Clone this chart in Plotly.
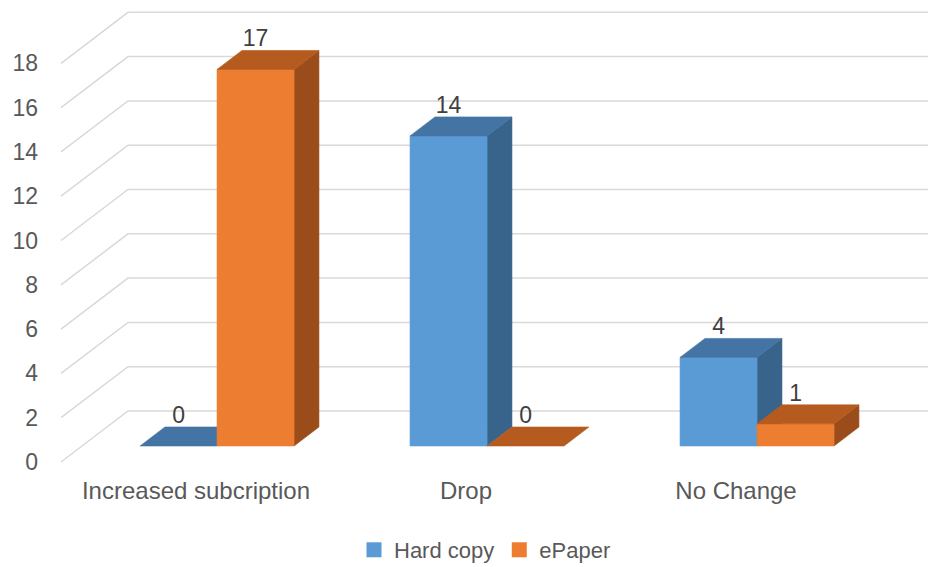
import plotly.graph_objects as go

# ---------------- data ----------------
categories = ["Increased subcription", "Drop", "No Change"]
hard_copy = [0, 14, 4]
epaper = [17, 0, 1]
series_names = ["Hard copy", "ePaper"]
y_ticks = [0, 2, 4, 6, 8, 10, 12, 14, 16, 18]

# ---------------- styling / geometry ----------------
W, H = 928, 567
ML, MR, MT, MB = 42, 0, 0, 97
PX_PER_X = 270.0      # pixels per category step
X0_PX = 196.0         # pixel of first category centre (front plane)
Y0_PX = 462.0         # pixel of value 0 (front plane)
PX_PER_V = 22.15      # pixels per unit value

x_range = [(ML - X0_PX) / PX_PER_X, (W - MR - X0_PX) / PX_PER_X]
y_range = [(Y0_PX - (H - MB)) / PX_PER_V, (Y0_PX - MT) / PX_PER_V]

DX = 67 / PX_PER_X    # full depth shift, x units
DY = 51 / PX_PER_V    # full depth shift, value units
F1, F2 = 0.314, 0.686 # bar front / back depth fractions
BAR_W = 77 / PX_PER_X
LABEL_GAP = 10 / PX_PER_V

colors = {
    "Hard copy": {"front": "#5B9BD5", "top": "#4374A3", "side": "#38648B"},
    "ePaper": {"front": "#ED7D31", "top": "#B65B1F", "side": "#9A4D1B"},
}
font_family = "Liberation Sans, Arial, sans-serif"
text_color = "#595959"
grid_color = "#D9D9D9"

fig = go.Figure()

# ---------------- gridlines (side wall + back wall) ----------------
gx, gy = [], []
for v in y_ticks:
    gx += [-0.5, -0.5 + DX, x_range[1] + 1, None]
    gy += [v, v + DY, v + DY, None]
fig.add_trace(go.Scatter(x=gx, y=gy, mode="lines", line=dict(color=grid_color, width=1.5),
                         hoverinfo="skip", showlegend=False, cliponaxis=False))


def poly(pts, color, name):
    xs = [p[0] for p in pts] + [pts[0][0]]
    ys = [p[1] for p in pts] + [pts[0][1]]
    fig.add_trace(go.Scatter(x=xs, y=ys, mode="lines", fill="toself", fillcolor=color,
                             line=dict(width=0.6, color=color), hoverinfo="skip",
                             showlegend=False, name=name))


def bar3d(xl, xr, h, c, name):
    a1x, a1y = F1 * DX, F1 * DY
    a2x, a2y = F2 * DX, F2 * DY
    if h > 0:
        # side face
        poly([(xr + a1x, a1y), (xr + a2x, a2y), (xr + a2x, h + a2y), (xr + a1x, h + a1y)], c["side"], name)
        # front face
        poly([(xl + a1x, a1y), (xr + a1x, a1y), (xr + a1x, h + a1y), (xl + a1x, h + a1y)], c["front"], name)
    # top face
    poly([(xl + a1x, h + a1y), (xr + a1x, h + a1y), (xr + a2x, h + a2y), (xl + a2x, h + a2y)], c["top"], name)


label_x, label_y, label_t = [], [], []
for i, cat in enumerate(categories):
    for s, (name, vals) in enumerate(zip(series_names, [hard_copy, epaper])):
        xl = i - BAR_W if s == 0 else i
        xr = xl + BAR_W
        bar3d(xl, xr, vals[i], colors[name], name)
        label_x.append((xl + xr) / 2 + F1 * DX)
        label_y.append(vals[i] + F2 * DY + LABEL_GAP)
        label_t.append(str(vals[i]))

fig.add_trace(go.Scatter(x=label_x, y=label_y, text=label_t, mode="text",
                         textposition="middle center",
                         textfont=dict(family=font_family, size=23, color="#404040"),
                         hoverinfo="skip", showlegend=False, cliponaxis=False))

# legend entries
for name in series_names:
    fig.add_trace(go.Scatter(x=[None], y=[None], mode="markers", name=name,
                             marker=dict(symbol="square", size=15, color=colors[name]["front"])))

fig.update_layout(
    width=W, height=H,
    margin=dict(l=ML, r=MR, t=MT, b=MB, autoexpand=False),
    paper_bgcolor="white", plot_bgcolor="white",
    font=dict(family=font_family, size=23, color=text_color),
    xaxis=dict(range=x_range, tickmode="array", tickvals=list(range(len(categories))),
               ticktext=categories, showgrid=False, zeroline=False, showline=False,
               ticks="", fixedrange=True, automargin=False, ticklabelstandoff=4,
               tickfont=dict(size=24)),
    yaxis=dict(range=y_range, tickmode="array", tickvals=y_ticks,
               showgrid=False, zeroline=False, showline=False, ticks="", fixedrange=True,
               automargin=False, ticklabelstandoff=3),
    legend=dict(orientation="h", x=0.5, xanchor="center", yref="container",
                y=0.03, yanchor="middle",
                font=dict(size=22, color=text_color), itemwidth=30),
    showlegend=True,
)

fig.write_html("out.html")
